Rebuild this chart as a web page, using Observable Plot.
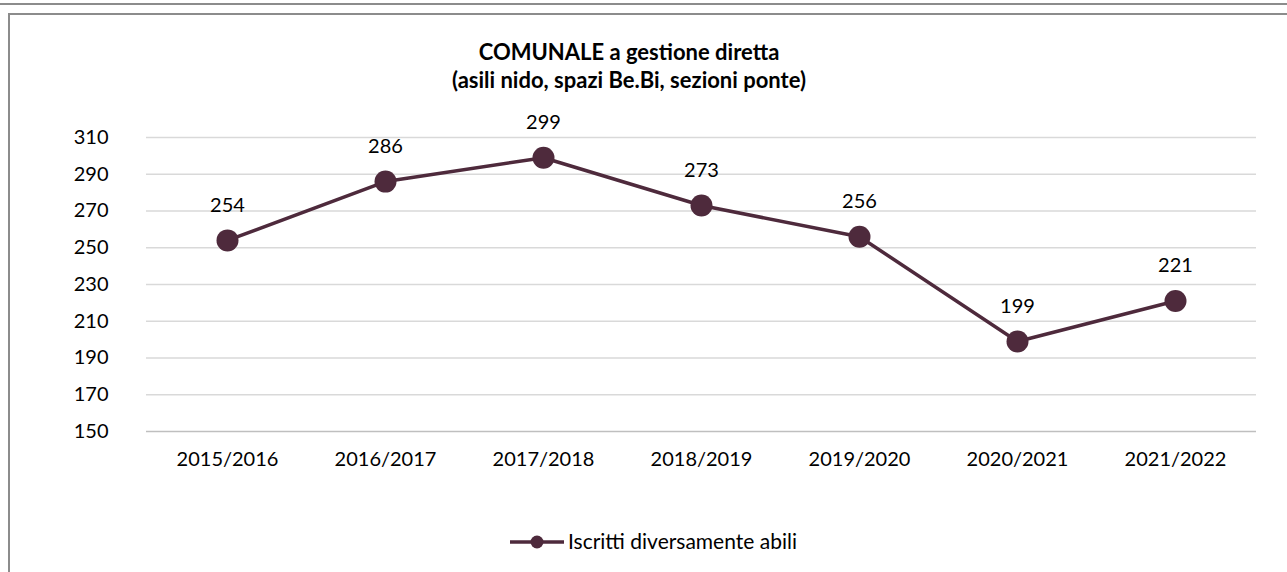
<!DOCTYPE html>
<html><head><meta charset="utf-8">
<script src="https://cdn.jsdelivr.net/npm/d3@7"></script>
<script src="https://cdn.jsdelivr.net/npm/@observablehq/plot@0.6"></script>
<style>
html,body{margin:0;padding:0;background:#fff;width:1287px;height:572px;overflow:hidden;font-family:Lato,"Open Sans",sans-serif;color:#000}
#topline{position:absolute;left:0;top:3px;width:1287px;height:0;border-top:2px solid #8c8c8c}
#box{position:absolute;left:8px;top:13px;width:1290px;height:570px;border-left:2px solid #8c8c8c;border-top:2px solid #8c8c8c}
#title{position:absolute;left:379px;width:500px;top:38px;text-align:center;font-weight:bold;font-size:22px;line-height:28px}
#chart{position:absolute;left:0;top:100px}
#legend{position:absolute;left:0;top:528px;width:1287px;height:28px}
</style></head>
<body>
<div id="topline"></div><div id="box"></div>
<div id="title">COMUNALE a gestione diretta<br>(asili nido, spazi Be.Bi, sezioni ponte)</div>
<div id="chart"></div>
<div id="legend"></div>
<script>
const years = ["2015/2016","2016/2017","2017/2018","2018/2019","2019/2020","2020/2021","2021/2022"];
const iscritti = [254, 286, 299, 273, 256, 199, 221];
const yTicks = [150,170,190,210,230,250,270,290,310];
const seriesName = "Iscritti diversamente abili";
const lineColor = "#4e2a3c";

const data = years.map((y,i)=>({year:y, value:iscritti[i]}));

const chart = Plot.plot({
  width: 1287, height: 380,
  marginLeft: 146, marginRight: 31, marginTop: 37, marginBottom: 49,
  style: {fontFamily: "Lato, 'Open Sans', sans-serif", fontSize: "20px", color: "#000", background: "transparent"},
  x: {type: "point", domain: years, padding: 0.5, label: null, tickSize: 0, tickPadding: 20},
  y: {domain: [150, 310], ticks: yTicks, label: null, tickSize: 0, tickPadding: 38},
  marks: [
    Plot.ruleY(yTicks.filter(t=>t!==150), {stroke: "#d9d9d9", strokeWidth: 1.3, strokeOpacity: 1}),
    Plot.ruleY([150], {stroke: "#bfbfbf", strokeWidth: 1.5}),
    Plot.line(data, {x: "year", y: "value", stroke: lineColor, strokeWidth: 3.5}),
    Plot.dot(data, {x: "year", y: "value", r: 11, fill: lineColor, stroke: "none"}),
    Plot.text(data, {x: "year", y: "value", text: d => String(d.value), dy: -35, fontSize: 20, fill: "#000"})
  ]
});
document.getElementById("chart").appendChild(chart);

const leg = d3.select("#legend").append("svg").attr("width", 1287).attr("height", 28)
  .style("font-family", "Lato, 'Open Sans', sans-serif");
leg.append("line").attr("x1", 510).attr("x2", 564).attr("y1", 14).attr("y2", 14)
  .attr("stroke", lineColor).attr("stroke-width", 3.5);
leg.append("circle").attr("cx", 537).attr("cy", 14).attr("r", 6.5).attr("fill", lineColor);
leg.append("text").attr("x", 568).attr("y", 14).attr("dy", "0.35em").attr("font-size", 21).text(seriesName);
</script>
</body></html>
